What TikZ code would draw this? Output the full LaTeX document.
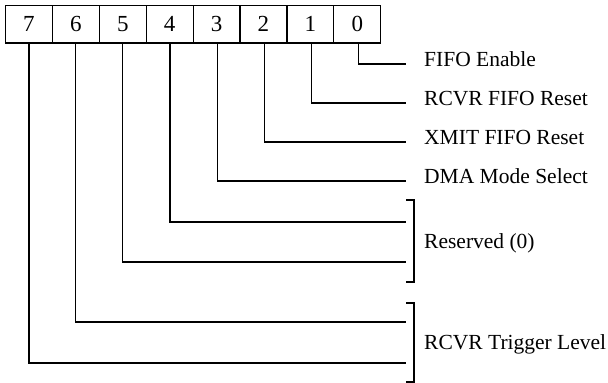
\documentclass[tikz,border=0pt]{standalone}
\usepackage{fontspec}
\setmainfont{Liberation Serif}
\begin{document}
\begin{tikzpicture}[x=1pt,y=-1pt,
  cell/.style={draw,line width=1.2pt,minimum width=46.9pt,minimum height=37.5pt,inner sep=0pt,font=\fontsize{23}{26}\selectfont},
  lbl/.style={anchor=base west,inner sep=0pt,font=\fontsize{21.5}{24}\selectfont},
  wire/.style={line width=1.2pt},
  brk/.style={line width=1.2pt}]
\useasboundingbox (0,0) rectangle (608,383);
\foreach \b [count=\i from 0] in {7,6,5,4,3,2,1,0}{
  \node[cell] (b\b) at ({5.5+23.45+46.9*\i},24.2) {\b};
}
% end points of connectors
\coordinate (e0) at (406,64);
\coordinate (e1) at (406,103);
\coordinate (e2) at (406,142);
\coordinate (e3) at (406,181);
\coordinate (e4) at (406,222);
\coordinate (e5) at (406,262);
\coordinate (e6) at (406,322);
\coordinate (e7) at (406,363);
\foreach \b in {0,...,7}{
  \draw[wire] ([xshift={max(0,(5-\b))*0.3pt}]b\b.south) |- (e\b);
}
% brackets
\draw[brk] (406,200) -- (414,200) -- (414,282) -- (406,282);
\draw[brk] (406,303) -- (414,303) -- (414,382) -- (406,382);
% labels
\node[lbl] (l0) at (424,66) {FIFO Enable};
\node[lbl] (l1) at (424,105) {RCVR FIFO Reset};
\node[lbl] (l2) at (424,144) {XMIT FIFO Reset};
\node[lbl] (l3) at (424,183) {DMA Mode Select};
\node[lbl] (l4) at (424,248) {Reserved (0)};
\node[lbl] (l5) at (424,349) {RCVR Trigger Level};
\end{tikzpicture}
\end{document}
